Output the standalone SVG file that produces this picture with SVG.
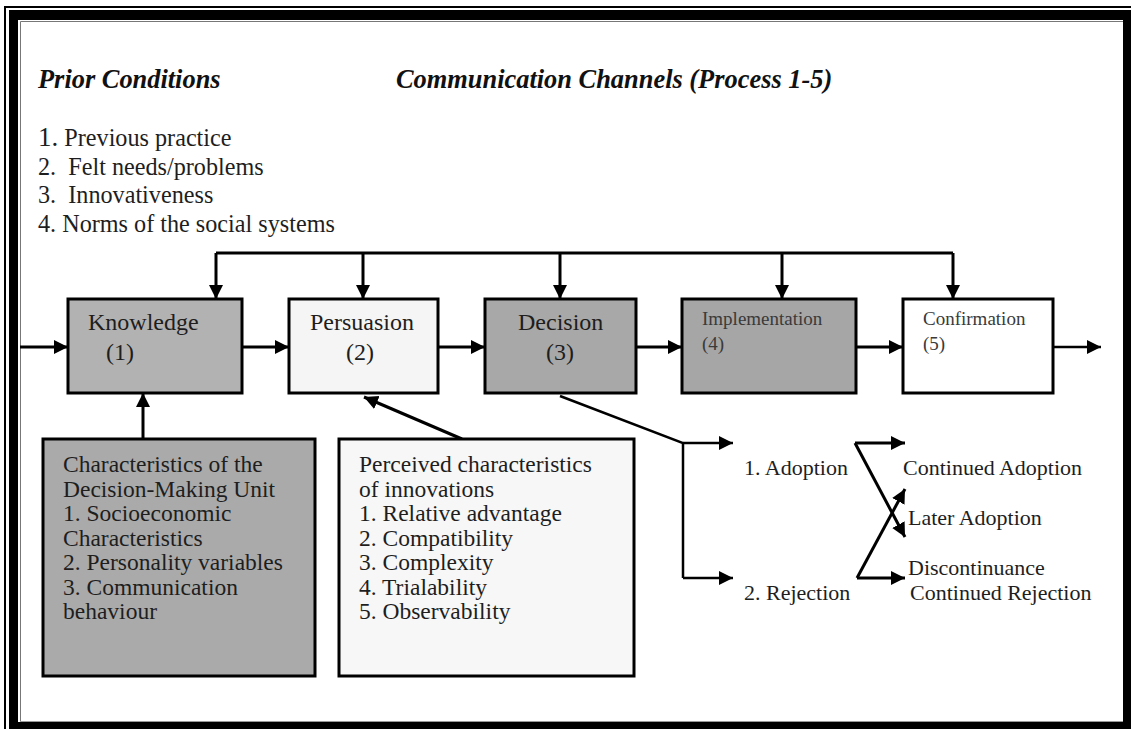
<svg xmlns="http://www.w3.org/2000/svg" width="1131" height="729" viewBox="0 0 1131 729">
  <style>
    .t { font-family: "Liberation Serif", "Times New Roman", serif; fill: #1e1e1e; }
    .h { font-family: "Liberation Serif", "Times New Roman", serif; font-weight: bold; font-style: italic; font-size: 26.4px; fill: #111; }
    .lbl { font-size: 24px; }
    .sm { font-size: 19px; fill: #3a3a3a; }
    .box { stroke: #000; stroke-width: 3; }
    .ln { fill: none; stroke: #000; stroke-width: 3; }
    .thin { fill: none; stroke: #000; stroke-width: 2.5; }
    .body { font-size: 23.5px; }
  </style>
  <defs>
    <marker id="ah" markerUnits="userSpaceOnUse" markerWidth="16" markerHeight="16" refX="14" refY="7" orient="auto">
      <path d="M0,0 L14,7 L0,14 z" fill="#000"/>
    </marker>
  </defs>

  <!-- page background and double border -->
  <rect x="0" y="0" width="1131" height="729" fill="#fff"/>
  <path d="M5,740 V7 H1140" fill="none" stroke="#000" stroke-width="2"/>
  <path d="M9,10 H1140 V740 H9 Z M18,20 V722 H1123 V20 Z" fill="#000" fill-rule="evenodd"/>
  <path d="M20.5,722 V21.5 H1123" fill="none" stroke="#777" stroke-width="1"/>
  <path d="M20,721.5 H1123" fill="none" stroke="#999" stroke-width="1"/>

  <!-- headings -->
  <text class="h" x="38" y="88">Prior Conditions</text>
  <text class="h" x="396" y="88">Communication Channels (Process 1-5)</text>

  <!-- prior conditions list -->
  <g id="prior-conditions" class="t" font-size="24.2">
    <text x="38" y="146"><tspan font-size="27">1.</tspan> Previous practice</text>
    <text x="38" y="175">2.&#160; Felt needs/problems</text>
    <text x="38" y="203">3.&#160; Innovativeness</text>
    <text x="38" y="232">4. Norms of the social systems</text>
  </g>

  <!-- connectors -->
  <g id="connectors">
    <!-- feedback channel along the top -->
    <path class="ln" d="M216,253 H953"/>
    <path class="ln" d="M216,253 V299" marker-end="url(#ah)"/>
    <path class="ln" d="M363,253 V299" marker-end="url(#ah)"/>
    <path class="ln" d="M560,253 V299" marker-end="url(#ah)"/>
    <path class="ln" d="M782,253 V299" marker-end="url(#ah)"/>
    <path class="ln" d="M953,253 V299" marker-end="url(#ah)"/>
    <!-- stage flow -->
    <path class="ln" d="M20,347 H68" marker-end="url(#ah)"/>
    <path class="ln" d="M242,347 H289" marker-end="url(#ah)"/>
    <path class="ln" d="M438,347 H485" marker-end="url(#ah)"/>
    <path class="ln" d="M636,347 H682" marker-end="url(#ah)"/>
    <path class="ln" d="M856,347 H903" marker-end="url(#ah)"/>
    <path class="thin" d="M1053,347 H1101" marker-end="url(#ah)"/>
    <!-- inputs from below -->
    <path class="ln" d="M143,439 V393" marker-end="url(#ah)"/>
    <path class="ln" d="M462,439 L364,397" marker-end="url(#ah)"/>
    <!-- decision outcomes -->
    <path class="thin" d="M560,396 L683,443 V578"/>
    <path class="thin" d="M683,443 H733" marker-end="url(#ah)"/>
    <path class="thin" d="M683,578 H733" marker-end="url(#ah)"/>
    <!-- later stages -->
    <path class="ln" d="M855,443 H905" marker-end="url(#ah)"/>
    <path class="ln" d="M855,443 L905,537" marker-end="url(#ah)"/>
    <path class="ln" d="M857,578 H905" marker-end="url(#ah)"/>
    <path class="ln" d="M857,578 L905,489" marker-end="url(#ah)"/>
  </g>

  <!-- stage boxes -->
  <g id="knowledge">
    <rect class="box" x="68" y="299" width="174" height="94" fill="#b2b2b2"/>
    <text class="t lbl" x="88" y="330">Knowledge</text>
    <text class="t lbl" x="106" y="360">(1)</text>
  </g>
  <g id="persuasion">
    <rect class="box" x="289" y="299" width="149" height="94" fill="#f5f5f5"/>
    <text class="t lbl" x="310" y="330">Persuasion</text>
    <text class="t lbl" x="346" y="360">(2)</text>
  </g>
  <g id="decision">
    <rect class="box" x="485" y="299" width="151" height="94" fill="#a8a8a8"/>
    <text class="t lbl" x="518" y="330">Decision</text>
    <text class="t lbl" x="546" y="360">(3)</text>
  </g>
  <g id="implementation">
    <rect class="box" x="682" y="299" width="174" height="94" fill="#a6a6a6"/>
    <text class="t sm" x="702" y="325">Implementation</text>
    <text class="t sm" x="702" y="350">(4)</text>
  </g>
  <g id="confirmation">
    <rect class="box" x="903" y="299" width="150" height="94" fill="#fff"/>
    <text class="t sm" x="923" y="325">Confirmation</text>
    <text class="t sm" x="923" y="350">(5)</text>
  </g>

  <!-- influencing factors -->
  <g id="decision-unit">
    <rect class="box" x="43" y="439" width="272" height="237" fill="#aaaaaa"/>
    <g class="t body">
      <text x="63" y="472">Characteristics of the</text>
      <text x="63" y="496.5">Decision-Making Unit</text>
      <text x="63" y="521">1. Socioeconomic</text>
      <text x="63" y="545.5">Characteristics</text>
      <text x="63" y="570">2. Personality variables</text>
      <text x="63" y="594.5">3. Communication</text>
      <text x="63" y="619">behaviour</text>
    </g>
  </g>
  <g id="perceived-characteristics">
    <rect class="box" x="339" y="439" width="295" height="237" fill="#f7f7f7"/>
    <g class="t body">
      <text x="359" y="472">Perceived characteristics</text>
      <text x="359" y="496.5">of innovations</text>
      <text x="359" y="521">1. Relative advantage</text>
      <text x="359" y="545.5">2. Compatibility</text>
      <text x="359" y="570">3. Complexity</text>
      <text x="359" y="594.5">4. Trialability</text>
      <text x="359" y="619">5. Observability</text>
    </g>
  </g>

  <!-- outcomes -->
  <g id="adoption"><text class="t" font-size="22" x="744" y="475">1. Adoption</text></g>
  <g id="rejection"><text class="t" font-size="22" x="744" y="600">2. Rejection</text></g>
  <g id="continued-adoption"><text class="t" font-size="22" x="903" y="475">Continued Adoption</text></g>
  <g id="later-adoption"><text class="t" font-size="22" x="908" y="525">Later Adoption</text></g>
  <g id="discontinuance"><text class="t" font-size="22" x="908" y="575">Discontinuance</text></g>
  <g id="continued-rejection"><text class="t" font-size="22" x="910" y="600">Continued Rejection</text></g>
</svg>
